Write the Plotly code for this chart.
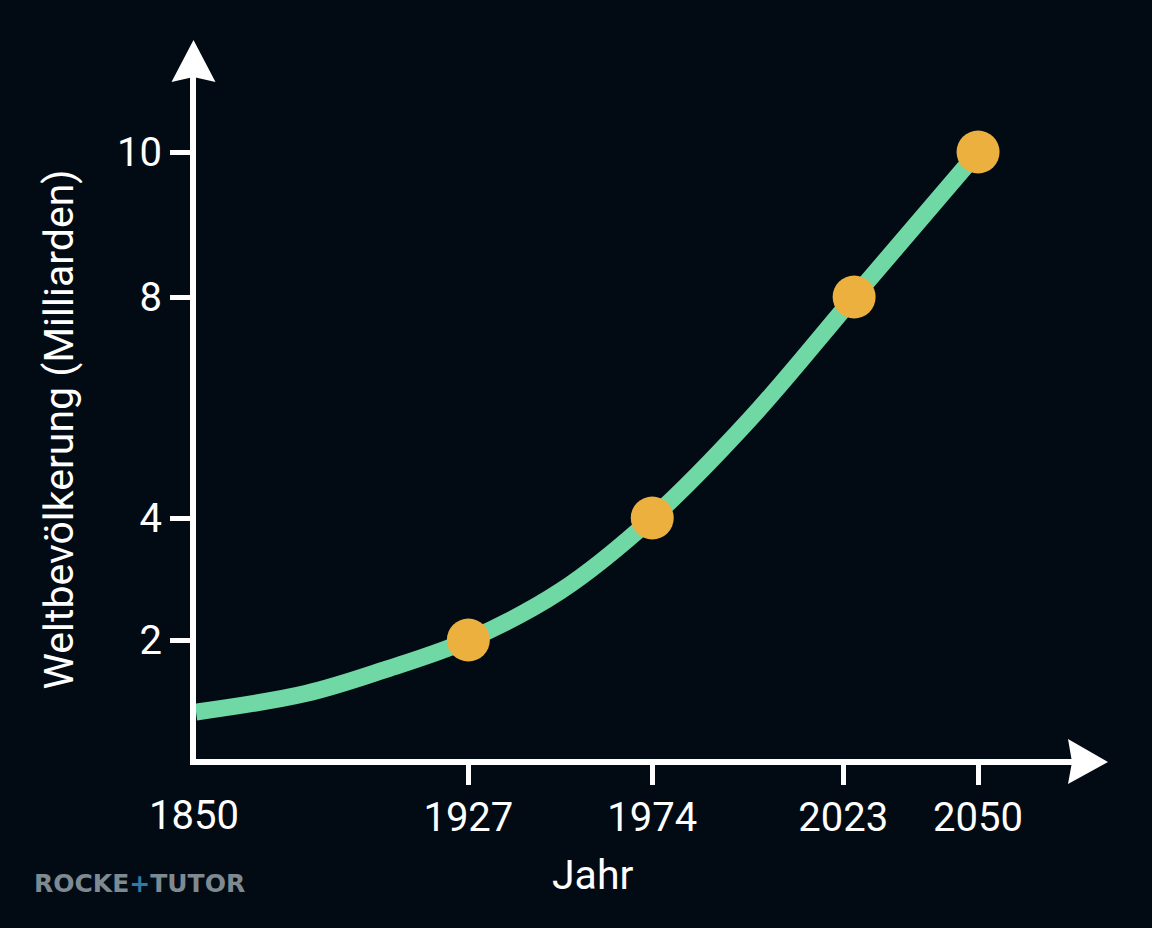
import numpy as np
import plotly.graph_objects as go

# values
curve_years = [1850, 1881, 1903.9, 1927, 1950.5, 1974, 1999.1, 2025.2, 2050]
curve_pop = [0.79, 1.1, 1.51, 2, 2.8, 4, 5.79, 8, 10]
point_years = [1927, 1974, 2025.2, 2050]
point_pop = [2, 4, 8, 10]

tick_years = [1850, 1927, 1974, 2023, 2050]
tick_pop = [0, 2, 4, 8, 10]
y_tick_labels = ["2", "4", "8", "10"]

# the axes of the chart are schematic, not linear
x_scale = [0, 272.5, 456.5, 647.5, 782.5]
y_scale = [0, 119, 241, 462, 607]
x_max, y_max = 896.5, 709

BG = "#020b14"
WHITE = "#ffffff"
FONT = "Roboto"


def to_x(years):
    return np.interp(years, tick_years, x_scale)


def to_y(pop):
    return np.interp(pop, tick_pop, y_scale)


fig = go.Figure()
fig.add_trace(go.Scatter(x=to_x(curve_years), y=to_y(curve_pop), mode="lines",
                         line=dict(color="#6fd8a5", width=17, shape="spline", smoothing=1.0),
                         hoverinfo="skip"))
fig.add_trace(go.Scatter(x=to_x(point_years), y=to_y(point_pop), mode="markers",
                         marker=dict(color="#ecb03f", size=43), cliponaxis=False))

fig.update_xaxes(range=[0, x_max], showgrid=False, zeroline=False, showline=True,
                 linecolor=WHITE, linewidth=6, ticks="outside", ticklen=20, tickwidth=5,
                 tickcolor=WHITE, tickmode="array", tickvals=to_x(tick_years[1:]),
                 ticktext=[str(y) for y in tick_years[1:]], ticklabelstandoff=-2,
                 tickfont=dict(family=FONT, size=40, color=WHITE))
fig.update_yaxes(range=[0, y_max], showgrid=False, zeroline=False, showline=True,
                 linecolor=WHITE, linewidth=6, ticks="outside", ticklen=20, tickwidth=5,
                 tickcolor=WHITE, tickmode="array", tickvals=to_y(tick_pop[1:]),
                 ticktext=y_tick_labels, ticklabelstandoff=0,
                 tickfont=dict(family=FONT, size=40, color=WHITE))

arrow_up = "M -2.5 10 L 19.5 -32 L -2.5 -27 L -24.5 -32 Z"
arrow_right = "M 16 -3 L -24 20 L -20 -3 L -24 -25 Z"
fig.update_layout(
    width=1152, height=928, margin=dict(l=195.5, r=60, t=50, b=169, autoexpand=False),
    paper_bgcolor=BG, plot_bgcolor=BG, showlegend=False,
    shapes=[
        dict(type="path", xref="paper", yref="paper", xsizemode="pixel", ysizemode="pixel",
             xanchor=0, yanchor=1, path=arrow_up, fillcolor=WHITE, line_width=0),
        dict(type="path", xref="paper", yref="paper", xsizemode="pixel", ysizemode="pixel",
             xanchor=1, yanchor=0, path=arrow_right, fillcolor=WHITE, line_width=0),
    ],
    annotations=[
        dict(text="1850", xref="x", yref="paper", x=to_x(1850), xshift=-2, y=0, yshift=-56,
             showarrow=False, font=dict(family=FONT, size=40, color=WHITE),
             xanchor="center", yanchor="middle"),
        dict(text="Jahr", xref="paper", yref="paper", x=(593 - 195.5) / x_max, y=0, yshift=-116,
             showarrow=False, font=dict(family=FONT, size=41, color=WHITE),
             xanchor="center", yanchor="middle"),
        dict(text="Weltbevölkerung (Milliarden)", xref="paper", yref="paper", x=0, xshift=-137.5,
             y=(759 - 430) / y_max, textangle=-90, showarrow=False,
             font=dict(family=FONT, size=41, color=WHITE), xanchor="center", yanchor="middle"),
        dict(text="<b>ROCKE<span style='color:#2f7aa8'>+</span>TUTOR</b>", xref="paper", yref="paper",
             x=0, xshift=-164.5, y=0, yshift=-124, showarrow=False, xanchor="left", yanchor="middle",
             font=dict(family="DejaVu Sans", size=25, color="#7e8a92")),
    ],
)

fig.write_html("out.html", config={"displayModeBar": False},
               post_script="document.body.style.margin='0';")
